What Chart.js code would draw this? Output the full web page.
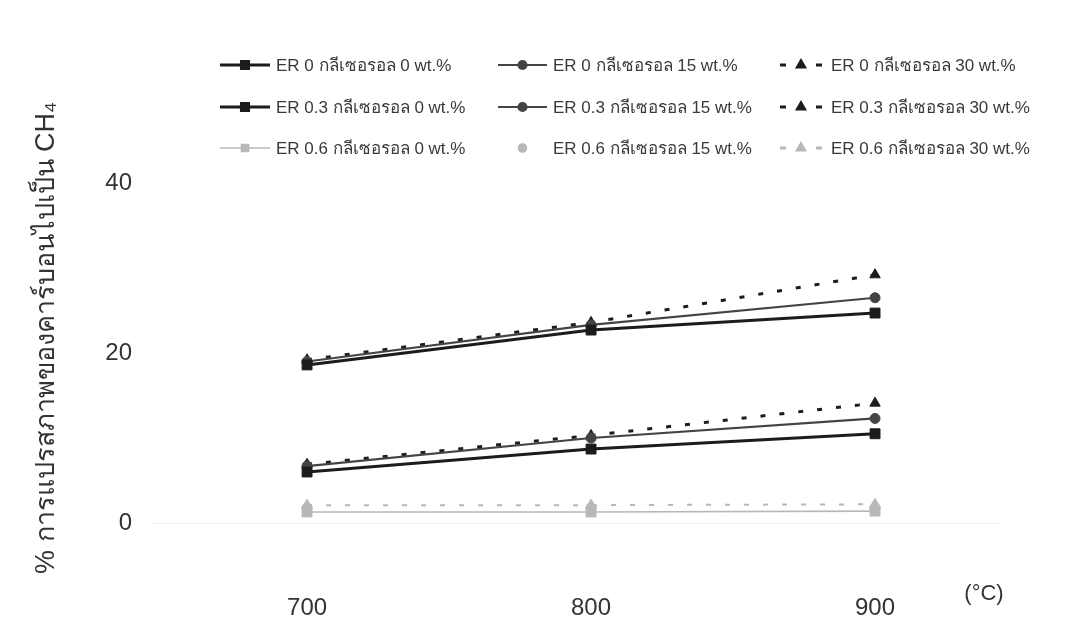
<!DOCTYPE html>
<html>
<head>
<meta charset="utf-8">
<script src="https://cdn.jsdelivr.net/npm/chart.js@4/dist/chart.umd.min.js"></script>
<style>
  html, body { margin: 0; padding: 0; background: #fff; }
  #wrap { width: 1072px; height: 638px; position: relative; }
</style>
</head>
<body>
<div id="wrap"><canvas id="ch4-chart" width="1072" height="638"></canvas></div>
<script>
// CH4 carbon conversion vs temperature, by ER and glycerol loading
const temps = [700, 800, 900];
const xTicks = [700, 800, 900];
const yTicks = [0, 20, 40];

const er0_g0 = [18.6, 22.7, 24.7];
const er0_g15 = [19.0, 23.3, 26.5];
const er0_g30 = [19.2, 23.6, 29.2];
const er03_g0 = [6.0, 8.7, 10.5];
const er03_g15 = [6.7, 10.0, 12.3];
const er03_g30 = [6.9, 10.3, 14.1];
const er06_g0 = [1.3, 1.3, 1.4];
const er06_g15 = [1.8, 1.8, 1.8];
const er06_g30 = [2.1, 2.1, 2.2];

const seriesLabels = [
  'ER 0 กลีเซอรอล 0 wt.%', 'ER 0 กลีเซอรอล 15 wt.%', 'ER 0 กลีเซอรอล 30 wt.%',
  'ER 0.3 กลีเซอรอล 0 wt.%', 'ER 0.3 กลีเซอรอล 15 wt.%', 'ER 0.3 กลีเซอรอล 30 wt.%',
  'ER 0.6 กลีเซอรอล 0 wt.%', 'ER 0.6 กลีเซอรอล 15 wt.%', 'ER 0.6 กลีเซอรอล 30 wt.%'
];
const seriesValues = [er0_g0, er0_g15, er0_g30, er03_g0, er03_g15, er03_g30, er06_g0, er06_g15, er06_g30];

const FONT = "'Liberation Sans', Arial, 'Noto Sans', 'DejaVu Sans', sans-serif";
const dark = '#1c1c1c';
const mid = '#444';
const light = '#b8b8b8';

function styleFor(i) {
  const er = Math.floor(i / 3);
  const wt = i % 3;
  const col = er === 2 ? light : (wt === 1 ? mid : dark);
  const s = {
    borderColor: col,
    backgroundColor: col,
    pointBorderColor: col,
    pointBackgroundColor: col,
    borderWidth: wt === 0 ? 3 : 2.2,
    pointStyle: ['rect', 'circle', 'triangle'][wt],
    pointRadius: [7, 5, 6][wt],
    borderDash: [],
    showLine: true
  };
  if (wt === 2) { s.borderDash = [5, 14]; s.borderWidth = 3; }
  if (er === 2 && wt === 1) s.showLine = false;
  if (er === 2) s.borderWidth = wt === 2 ? 2 : 1.6;
  return s;
}

const datasets = seriesValues.map((vals, i) => Object.assign({
  label: seriesLabels[i],
  data: vals.map((v, k) => ({ x: temps[k], y: v })),
  tension: 0,
  pointBorderWidth: 1
}, styleFor(i)));

// grid legend (3 columns x 3 rows) drawn from the dataset styles
const legendCols = [{ x: 220, w: 50, t: 276 }, { x: 498, w: 49, t: 553 }, { x: 778, w: 46, t: 831 }];
const legendRows = [65, 107, 148];

const gridLegend = {
  id: 'gridLegend',
  afterDraw(chart) {
    const ctx = chart.ctx;
    ctx.save();
    chart.data.datasets.forEach((ds, i) => {
      const c = legendCols[i % 3];
      const y = legendRows[Math.floor(i / 3)];
      ctx.strokeStyle = ds.borderColor;
      ctx.lineWidth = ds.borderWidth;
      if (ds.showLine !== false) {
        ctx.beginPath();
        if (ds.borderDash.length) {
          ctx.lineWidth = 3;
          ctx.moveTo(c.x + 2, y); ctx.lineTo(c.x + 8, y);
          ctx.moveTo(c.x + c.w - 8, y); ctx.lineTo(c.x + c.w - 2, y);
        } else {
          ctx.moveTo(c.x, y); ctx.lineTo(c.x + c.w, y);
        }
        ctx.stroke();
      }
      ctx.fillStyle = ds.pointBackgroundColor;
      ctx.strokeStyle = ds.pointBorderColor;
      Chart.helpers.drawPoint(ctx, {
        pointStyle: ds.pointStyle,
        radius: ds.pointStyle === 'rect' ? 5 : 4,
        borderWidth: 1
      }, c.x + c.w / 2, y);
      ctx.fillStyle = '#3a3a3a';
      ctx.font = '17px ' + FONT;
      ctx.textBaseline = 'middle';
      ctx.textAlign = 'left';
      ctx.fillText(ds.label, c.t, y + 1);
    });
    // unit label to the right of the temperature ticks
    ctx.fillStyle = '#333';
    ctx.font = '22px ' + FONT;
    ctx.textAlign = 'center';
    ctx.fillText('(°C)', 984, 594);
    ctx.restore();
  }
};

new Chart(document.getElementById('ch4-chart'), {
  type: 'line',
  data: { datasets: datasets },
  options: {
    responsive: false,
    animation: false,
    layout: { padding: { top: 166, left: 18, right: 72, bottom: 0 } },
    plugins: { legend: { display: false }, tooltip: { enabled: false } },
    scales: {
      x: {
        type: 'linear',
        min: 644.7,
        max: 944,
        afterBuildTicks: (s) => { s.ticks = xTicks.map(v => ({ value: v })); },
        afterFit: (s) => { s.height = 64; },
        grid: { display: false, drawTicks: false },
        border: { display: false },
        ticks: { padding: 20, color: '#333', font: { size: 24, family: FONT } }
      },
      y: {
        min: -6,
        max: 42,
        afterBuildTicks: (s) => { s.ticks = yTicks.map(v => ({ value: v })); },
        afterFit: (s) => { s.width = 132; },
        grid: {
          drawTicks: false,
          color: (c) => c.tick && c.tick.value === 0 ? '#f0f0f0' : 'rgba(0,0,0,0)'
        },
        border: { display: false },
        ticks: { padding: 18, color: '#333', font: { size: 24, family: FONT } },
        title: {
          display: true,
          text: '% การแปรสภาพของคาร์บอนไปเป็น CH₄',
          align: 'start',
          color: '#333',
          font: { size: 27, family: FONT },
          padding: { top: 12, bottom: 0 }
        }
      }
    }
  },
  plugins: [gridLegend]
});
</script>
</body>
</html>
